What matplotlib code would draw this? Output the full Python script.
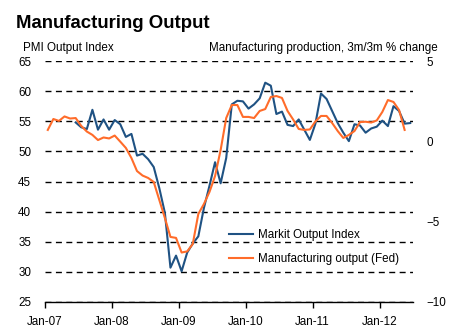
import numpy as np
import matplotlib
matplotlib.use('Agg')
import matplotlib.pyplot as plt

plt.rcParams['font.family'] = ['Liberation Sans', 'DejaVu Sans']

# 数据：月度序列，Jan-07 为第 0 个月
tick_labels = ['Jan-07', 'Jan-08', 'Jan-09', 'Jan-10', 'Jan-11', 'Jan-12']

# Markit Output Index (左轴)，从 Jun-07 开始
markit_start = 5
markit = [54.8, 54.0, 53.7, 56.9, 53.6, 55.3, 53.6, 55.2, 54.5, 52.4,
          52.9, 49.3, 49.6, 48.7, 47.4, 43.9, 39.8, 30.7, 32.7, 30.1,
          33.2, 34.7, 35.9, 40.6, 44.3, 48.2, 44.7, 48.9, 57.8, 58.4,
          58.3, 57.1, 57.8, 58.8, 61.4, 60.9, 56.2, 56.6, 54.4, 54.2,
          55.3, 53.6, 51.9, 54.6, 59.6, 58.7, 56.7, 54.7, 53.1, 51.7,
          54.5, 54.3, 53.1, 53.8, 54.1, 55.1, 54.2, 57.5, 56.7, 54.6,
          54.7]

# Manufacturing output (Fed), 3m/3m % change (右轴)，从 Jan-07 开始
fed_start = 0
fed = [0.71, 1.39, 1.27, 1.55, 1.42, 1.45, 0.96, 0.61, 0.40, 0.08,
       0.24, 0.18, 0.36, -0.02, -0.41, -1.04, -1.85, -2.13, -2.28, -2.53,
       -3.65, -4.77, -5.95, -6.01, -6.92, -6.85, -6.39, -4.52, -3.90, -3.15,
       -2.16, -0.54, 1.45, 2.26, 2.26, 1.52, 1.52, 1.45, 1.89, 2.01,
       2.76, 2.82, 2.70, 1.89, 1.36, 0.77, 0.71, 0.74, 1.24, 1.58,
       1.58, 1.14, 0.64, 0.21, 0.40, 0.64, 1.20, 1.22, 1.17, 1.30,
       1.83, 2.57, 2.45, 1.95, 0.71]

blue = '#1f5283'
orange = '#ff6c2a'
fs = 8.4

fig = plt.figure(figsize=(4.56, 3.32), dpi=100)
W, H = 456, 332
ax = fig.add_axes([45 / W, 1 - 302 / H, (413 - 45) / W, (302 - 61) / H])
ax2 = ax.twinx()

x_m = np.arange(len(markit)) + markit_start
x_f = np.arange(len(fed)) + fed_start

ax.plot(x_m, markit, color=blue, lw=1.5, label='Markit Output Index', zorder=3)
ax2.plot(x_f, fed, color=orange, lw=1.5, label='Manufacturing output (Fed)', zorder=3)

ax.set_ylim(25, 65)
ax.set_yticks(np.arange(25, 66, 5))
ax2.set_ylim(-10, 5)
ax2.set_yticks([-10, -5, 0, 5])

ax.set_xlim(-0.5, 65.5)
ax.set_xticks(np.arange(len(tick_labels)) * 12 - 0.5)
ax.set_xticklabels(tick_labels)

ax.yaxis.grid(True, color='black', linestyle=(0, (4.3, 3.2)), linewidth=1.0)
ax.set_axisbelow(True)

for a in (ax, ax2):
    for s in ('top', 'left', 'right'):
        a.spines[s].set_visible(False)
ax2.spines['bottom'].set_visible(False)
ax.spines['bottom'].set_linewidth(1.0)

ax.tick_params(axis='y', length=0, pad=10, labelsize=fs)
ax2.tick_params(axis='y', length=0, pad=10, labelsize=fs)
ax.tick_params(axis='x', length=4, width=1.0, direction='out', pad=6, labelsize=fs)

# 标题
fig.text(16 / W, 1 - 28.3 / H, 'Manufacturing Output', fontsize=13.4,
         fontweight='bold', va='baseline', ha='left')
fig.text(23 / W, 1 - 50.7 / H, 'PMI Output Index', fontsize=fs,
         va='baseline', ha='left')
fig.text(438 / W, 1 - 50.7 / H, 'Manufacturing production, 3m/3m % change',
         fontsize=fs, va='baseline', ha='right')

# 图例
h1, l1 = ax.get_legend_handles_labels()
h2, l2 = ax2.get_legend_handles_labels()
ax2.legend(h1 + h2, l1 + l2, loc='upper left',
           bbox_to_anchor=(229 / W, 1 - 229 / H), bbox_transform=fig.transFigure,
           frameon=False, fontsize=fs, handlelength=2.1, handletextpad=0.35,
           labelspacing=1.0, borderpad=0, borderaxespad=0)

plt.savefig('out.png', dpi=100)
